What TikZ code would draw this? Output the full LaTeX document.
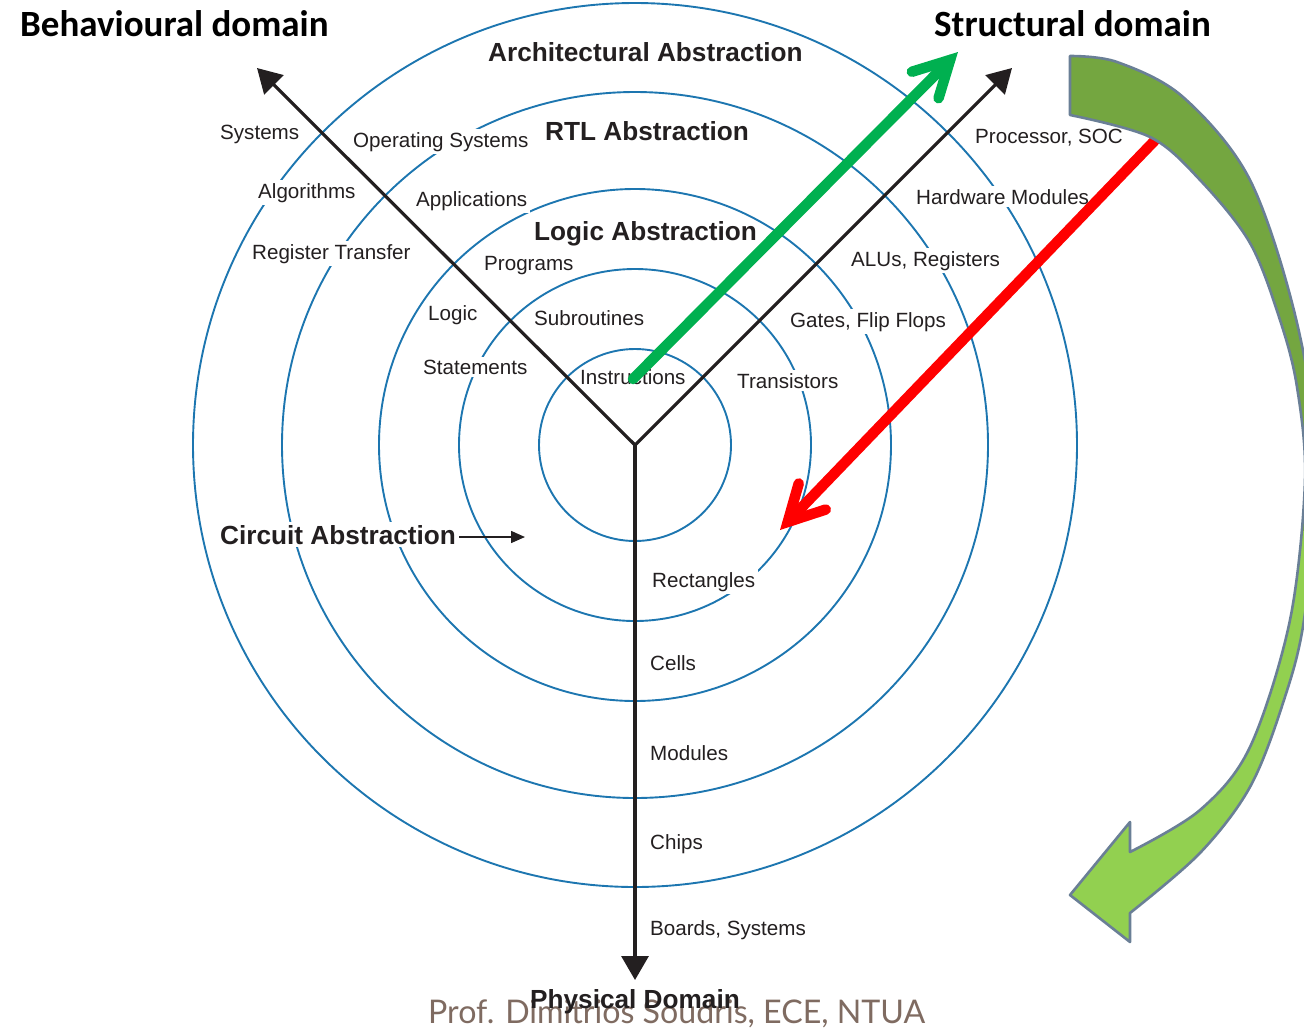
\documentclass[tikz,border=0pt]{standalone}
\usepackage{graphicx}
\usepackage{fontspec}
\setmainfont{Liberation Sans}
\newfontfamily\titlefont{Carlito}
\newfontfamily\footfont{Lato}
\usetikzlibrary{arrows.meta,calc}
\definecolor{ringblue}{HTML}{1D76B0}
\definecolor{axisblack}{HTML}{231F20}
\definecolor{gArrow}{HTML}{00B050}
\definecolor{rArrow}{HTML}{FF0000}
\definecolor{bigDark}{HTML}{74A640}
\definecolor{bigLight}{HTML}{92D050}
\definecolor{bigEdge}{HTML}{6A7F96}
\definecolor{footbrown}{HTML}{7F6B61}
\begin{document}
\begin{tikzpicture}[x=1pt,y=-1pt,
  ring/.style={draw=ringblue,line width=1.9pt},
  axisline/.style={draw=axisblack,line width=3.2pt,line join=miter},
  lbl/.style={fill=white,inner sep=3pt,anchor=base west,text=axisblack,font=\fontsize{20.6}{22}\selectfont},
  nlbl/.style={inner sep=3pt,anchor=base west,text=axisblack,font=\fontsize{20.6}{22}\selectfont},
  blbl/.style={inner sep=3pt,anchor=base west,text=axisblack,font=\fontsize{26.2}{28}\selectfont\bfseries},
  titletext/.style={inner sep=0pt,anchor=base west,text=black,font=\titlefont\fontsize{37}{40}\selectfont\bfseries},
  flow/.style={line width=10.5pt,line cap=round,line join=miter},
]
\useasboundingbox (0,0) rectangle (1304,1029);

% centre and axis tips
\coordinate (C) at (635,445);
\coordinate (behTip) at (257,68);
\coordinate (strTip) at (1012,68);
\coordinate (phyTip) at (635,980);

% rings
\foreach \r in {96,176,256,353,442} \draw[ring] (C) circle[radius=\r];

% behavioural labels
\node[lbl] (sys) at (217,139) {Systems};
\node[lbl] (alg) at (255,198) {Algorithms};
\node[lbl] (rt) at (249,259) {Register Transfer};
\node[lbl] (lgc) at (425,320) {Logic};
\node[lbl] (stm) at (420,374) {Statements};
\node[lbl] (os) at (350,147) {Operating Systems};
\node[lbl] (app) at (413,206) {Applications};
\node[lbl] (prg) at (481,270) {Programs};
\node[lbl] (sub) at (531,325) {Subroutines};
\node[nlbl] (ins) at (577,384) {Instructions};

% structural labels
\node[lbl] (proc) at (972,143) {Processor, SOC};
\node[lbl] (hwm) at (913,204) {Hardware Modules};
\node[lbl] (alu) at (848,266) {ALUs, Registers};
\node[lbl] (gff) at (787,327) {Gates, Flip Flops};
\node[lbl] (trn) at (734,388) {Transistors};

% physical labels
\node[lbl] (rect) at (649,587) {Rectangles};
\node[lbl] (cell) at (647,670) {Cells};
\node[lbl] (mods) at (647,760) {Modules};
\node[lbl] (chip) at (647,849) {Chips};
\node[lbl] (brd) at (647,935) {Boards, Systems};

% abstraction labels
\node[blbl] (arch) at (485,61) {Architectural Abstraction};
\node[blbl] (rtl) at (542,140) {RTL Abstraction};
\node[blbl] (logabs) at (531,240) {Logic Abstraction};
\node[blbl,fill=white] (circ) at (217,544) {Circuit Abstraction};
\coordinate (circTip) at (525,537);
\draw[axisblack,line width=1.5pt,-{Triangle[length=14pt,width=12pt]}] (circ.east |- circTip) -- (circTip);

% axes
\draw[axisline,{Triangle[length=24pt,width=27pt]}-{Triangle[length=24pt,width=27pt]}] (behTip) -- (C) -- (strTip);
\draw[axisline,-{Triangle[length=24pt,width=27pt]}] (C) -- (phyTip);

% green arrow
\coordinate (gS) at (633,379);
\coordinate (gT) at (958,52);
\coordinate (gV) at ($(gT)!11.2pt!(gS)$);
\draw[flow,gArrow] (gS) -- (gV);
\draw[flow,gArrow] ($(gV)!40pt!28:(gS)$) -- (gV) -- ($(gV)!40pt!-28:(gS)$);

% red arrow
\coordinate (rS) at (1162,133);
\coordinate (rT) at (780,530);
\coordinate (rV) at ($(rT)!11.2pt!(rS)$);
\draw[flow,rArrow] (rS) -- (rV);
\draw[flow,rArrow] ($(rV)!40pt!28:(rS)$) -- (rV) -- ($(rV)!40pt!-28:(rS)$);

% big curved arrow
\begin{scope}
\clip (0,0) rectangle (1304,1029);
\fill[bigLight] (1070,56) -- plot[smooth,tension=0.55] coordinates {(1070,56) (1117,62) (1183,97) (1250,180) (1297,323) (1318,470) (1304,620) (1283,703) (1250,787) (1200,853) (1130,913)} -- (1130,942) -- (1070,895) -- (1130,822) -- (1130,852) -- plot[smooth,tension=0.55] coordinates {(1130,852) (1200,810) (1250,747) (1290,620) (1305,480) (1297,387) (1280,320) (1250,243) (1200,180) (1150,137) (1070,115)} -- cycle;
\begin{scope}
\clip (0,0) rectangle (1304,530);
\fill[bigDark] (1070,56) -- plot[smooth,tension=0.55] coordinates {(1070,56) (1117,62) (1183,97) (1250,180) (1297,323) (1318,470) (1304,620) (1283,703) (1250,787) (1200,853) (1130,913)} -- (1130,942) -- (1070,895) -- (1130,822) -- (1130,852) -- plot[smooth,tension=0.55] coordinates {(1130,852) (1200,810) (1250,747) (1290,620) (1305,480) (1297,387) (1280,320) (1250,243) (1200,180) (1150,137) (1070,115)} -- cycle;
\end{scope}
\draw[bigEdge,line width=2.6pt,line join=round] (1070,56) -- plot[smooth,tension=0.55] coordinates {(1070,56) (1117,62) (1183,97) (1250,180) (1297,323) (1318,470) (1304,620) (1283,703) (1250,787) (1200,853) (1130,913)} -- (1130,942) -- (1070,895) -- (1130,822) -- (1130,852) -- plot[smooth,tension=0.55] coordinates {(1130,852) (1200,810) (1250,747) (1290,620) (1305,480) (1297,387) (1280,320) (1250,243) (1200,180) (1150,137) (1070,115)} -- cycle;
\end{scope}

% domain titles
\node[titletext] (beh) at (20,36) {Behavioural domain};
\node[titletext] (str) at (934,36) {Structural domain};

% footer and physical domain
\node[inner sep=0pt,anchor=base west,text=footbrown] (footer) at (428,1023) {\resizebox{497pt}{24pt}{\footfont Prof. Dimitrios Soudris, ECE, NTUA}};
\node[inner sep=0pt,anchor=base,text=axisblack,font=\fontsize{26.2}{28}\selectfont\bfseries] (phy) at (635,1008) {Physical Domain};
\end{tikzpicture}
\end{document}
